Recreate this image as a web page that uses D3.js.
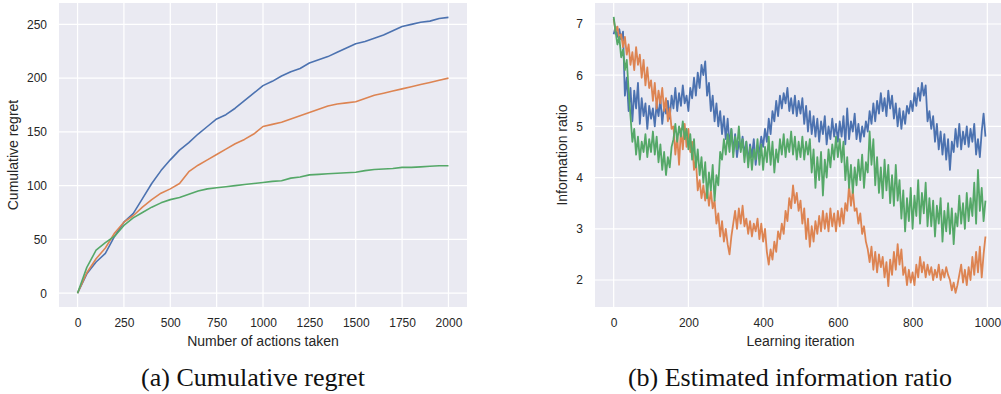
<!DOCTYPE html>
<html>
<head>
<meta charset="utf-8">
<script src="https://cdn.jsdelivr.net/npm/d3@7"></script>
<style>
  html, body { margin: 0; padding: 0; background: #ffffff; }
  svg { display: block; }
  .tick-label { font-family: "Liberation Sans", Arial, sans-serif; font-size: 12px; fill: #262626; }
  .axis-label { font-family: "Liberation Sans", Arial, sans-serif; font-size: 14px; fill: #262626; }
  .caption { font-family: "Liberation Serif", "Times New Roman", serif; font-size: 26px; fill: #111111; }
</style>
</head>
<body>
<svg id="fig" width="1001" height="394"></svg>
<script>
// ---- (a) cumulative regret, sampled every 50 actions ----
const actionStep = 50;
const regretBlue = [0, 18, 29, 37, 53, 66, 74, 88, 102, 114, 124, 133, 140, 148, 155, 162, 166, 172, 179, 186, 193,
  197, 202, 206, 209, 214, 217, 220, 224, 228, 232, 234, 237, 240, 244, 248, 250, 252, 253, 255.5, 256.5];
const regretOrange = [0, 19, 32, 42, 56, 66, 72, 80, 87, 93, 97, 102, 113, 119, 124, 129, 134, 139, 143, 148, 155,
  157, 159, 162, 165, 168, 171, 174, 176, 177, 178, 181, 184, 186, 188, 190, 192, 194, 196, 198, 200];
const regretGreen = [0, 24, 40, 47, 53, 63, 70, 75, 80, 84, 87, 89, 92, 95, 97, 98, 99, 100, 101, 102, 103,
  104, 104.5, 107, 108, 110, 110.5, 111, 111.5, 112, 112.5, 114, 115, 115.5, 116, 117, 117, 117.5, 118, 118.5, 118.5];
const regretXTicks = [0, 250, 500, 750, 1000, 1250, 1500, 1750, 2000];
const regretYTicks = [0, 50, 100, 150, 200, 250];

// ---- (b) estimated information ratio, sampled every 5 learning iterations ----
const iterStep = 5;
const ratioBlue = [
  6.80, 6.95, 6.75, 6.90, 6.70, 6.85, 5.60, 5.95, 5.30, 5.75,
  5.10, 5.70, 5.35, 5.85, 5.05, 5.55, 5.20, 5.45, 4.95, 5.40,
  5.15, 5.35, 5.00, 5.45, 5.20, 5.55, 5.05, 5.40, 5.25, 5.50,
  5.15, 5.60, 5.35, 5.75, 5.30, 5.65, 5.40, 5.80, 5.45, 5.60,
  5.30, 5.75, 5.55, 5.95, 5.60, 6.05, 5.75, 6.20, 6.00, 6.27,
  5.60, 5.85, 5.30, 5.60, 5.10, 5.45, 5.00, 5.30, 4.85, 5.20,
  4.75, 5.15, 4.65, 4.95, 4.50, 4.85, 4.40, 4.70, 4.55, 4.80,
  4.45, 4.70, 4.30, 4.65, 4.40, 4.75, 4.25, 4.60, 4.50, 4.80,
  4.60, 4.95, 4.70, 5.15, 4.85, 5.30, 5.10, 5.50, 5.20, 5.60,
  5.35, 5.65, 5.45, 5.75, 5.30, 5.55, 5.25, 5.60, 5.20, 5.50,
  5.25, 5.55, 5.05, 5.40, 4.90, 5.30, 4.85, 5.20, 4.80, 5.15,
  4.70, 5.10, 4.85, 5.20, 4.65, 5.00, 4.75, 5.15, 4.80, 5.05,
  4.70, 5.10, 4.80, 5.20, 4.65, 5.35, 4.75, 5.10, 4.90, 5.25,
  4.75, 5.05, 4.70, 5.00, 4.80, 5.10, 4.90, 5.30, 5.05, 5.45,
  5.10, 5.50, 5.25, 5.65, 5.30, 5.55, 5.20, 5.70, 5.35, 5.60,
  5.15, 5.45, 5.00, 5.35, 4.95, 5.30, 5.05, 5.40, 5.25, 5.50,
  5.30, 5.65, 5.40, 5.75, 5.50, 5.85, 5.60, 5.80, 5.10, 5.30,
  4.95, 5.20, 4.70, 5.05, 4.55, 4.90, 4.45, 4.85, 4.35, 4.75,
  4.15, 4.70, 4.50, 4.95, 4.60, 5.05, 4.55, 4.90, 4.65, 5.00,
  4.60, 4.95, 4.70, 5.05, 4.45, 4.75, 4.40, 4.90, 5.25, 4.80];
const ratioOrange = [
  7.10, 6.85, 6.95, 6.70, 6.80, 6.55, 6.75, 6.40, 6.60, 6.20,
  6.45, 6.10, 6.55, 6.20, 6.40, 5.95, 6.30, 5.80, 6.15, 5.75,
  5.90, 5.50, 5.85, 5.35, 5.70, 5.45, 5.75, 5.30, 5.55, 5.10,
  5.35, 4.95, 5.00, 4.45, 4.80, 4.25, 4.95, 4.55, 5.05, 4.60,
  4.95, 4.50, 4.70, 4.15, 4.35, 3.75, 3.95, 3.60, 3.85, 3.55,
  3.80, 3.45, 3.75, 3.40, 3.55, 3.10, 3.30, 2.85, 3.15, 2.75,
  3.00, 2.70, 2.50, 2.85, 3.10, 3.35, 3.00, 3.40, 3.10, 3.45,
  3.05, 3.20, 2.90, 3.15, 2.85, 3.10, 2.95, 3.20, 2.80, 3.10,
  2.75, 3.00, 2.55, 2.30, 2.60, 2.40, 2.75, 2.55, 2.95, 2.80,
  3.10, 2.90, 3.35, 3.15, 3.60, 3.40, 3.85, 3.50, 3.70, 3.35,
  3.55, 3.10, 3.40, 2.80, 3.20, 2.65, 3.05, 2.75, 3.15, 2.90,
  3.25, 2.95, 3.35, 3.00, 3.30, 2.95, 3.40, 3.05, 3.30, 2.95,
  3.35, 3.05, 3.40, 3.10, 3.50, 3.35, 3.85, 3.45, 3.75, 3.35,
  3.40, 3.10, 3.30, 2.90, 3.05, 2.75, 2.60, 2.35, 2.65, 2.20,
  2.55, 2.15, 2.50, 2.25, 2.45, 2.05, 2.35, 1.88, 2.40, 2.10,
  2.55, 2.20, 2.70, 2.30, 2.60, 2.10, 2.25, 1.90, 2.20, 1.95,
  2.15, 1.90, 2.30, 2.05, 2.45, 2.15, 2.35, 2.05, 2.30, 2.10,
  2.25, 2.00, 2.20, 2.05, 2.30, 2.00, 2.20, 2.05, 2.25, 2.10,
  2.00, 1.80, 1.95, 1.75, 1.90, 2.10, 2.30, 1.95, 2.20, 1.90,
  2.25, 2.00, 2.45, 2.10, 2.55, 2.15, 2.65, 2.05, 2.50, 2.85];
const ratioGreen = [
  7.14, 6.85, 6.60, 6.75, 6.35, 6.50, 6.10, 6.30, 5.70, 5.20,
  4.70, 4.95, 4.45, 4.80, 4.35, 4.70, 4.50, 4.85, 4.40, 4.75,
  4.50, 4.90, 4.45, 4.80, 4.30, 4.65, 4.15, 4.50, 4.05, 4.40,
  4.20, 4.60, 4.75, 5.05, 4.70, 5.00, 4.80, 5.10, 4.75, 4.95,
  4.55, 4.85, 4.35, 4.75, 4.20, 4.55, 4.05, 4.40, 3.90, 4.30,
  3.60, 4.10, 3.75, 4.25, 3.55, 4.05, 3.85, 4.50, 4.35, 4.75,
  4.45, 4.85, 4.50, 4.95, 4.40, 4.80, 4.55, 5.00, 4.50, 4.75,
  4.30, 4.70, 4.20, 4.60, 4.15, 4.55, 4.35, 4.75, 4.25, 4.65,
  4.15, 4.60, 4.30, 4.80, 4.25, 4.70, 4.10, 4.55, 4.30, 4.75,
  4.45, 4.85, 4.40, 4.75, 4.50, 4.90, 4.45, 4.80, 4.35, 4.70,
  4.40, 4.80, 4.35, 4.70, 4.45, 4.75, 4.10, 4.55, 3.80, 4.40,
  3.95, 4.50, 3.65, 4.35, 4.00, 4.55, 4.20, 4.65, 4.35, 4.80,
  4.40, 4.75, 4.30, 4.70, 3.95, 4.40, 3.80, 4.25, 3.70, 4.20,
  3.85, 4.35, 3.95, 4.45, 3.80, 4.30, 4.10, 4.90, 4.25, 4.75,
  3.85, 4.40, 3.70, 4.20, 3.60, 4.35, 3.75, 4.25, 3.50, 4.05,
  3.45, 4.25, 3.55, 3.95, 3.20, 3.75, 2.95, 3.60, 3.15, 3.80,
  3.00, 3.65, 3.25, 3.95, 3.10, 3.70, 3.30, 3.90, 3.05, 3.60,
  3.05, 3.55, 2.85, 3.45, 3.10, 3.60, 2.75, 3.35, 2.95, 3.50,
  2.90, 3.40, 2.70, 3.30, 3.05, 3.65, 3.10, 3.50, 3.00, 3.70,
  3.15, 3.60, 3.25, 3.90, 3.10, 4.15, 3.35, 3.80, 3.15, 3.55];
const ratioXTicks = [0, 200, 400, 600, 800, 1000];
const ratioYTicks = [2, 3, 4, 5, 6, 7];

const palette = { blue: "#4C72B0", orange: "#DD8452", green: "#55A868" };

const svg = d3.select("#fig");

function drawPanel(cfg) {
  const { x, y, xTicks, yTicks, series, step, lineWidth, xLabel, yLabel, yLabelX, caption, captionX } = cfg;
  const [x0, x1] = x.range();
  const [y0, y1] = y.range();
  const g = svg.append("g");

  // panel background
  g.append("rect")
    .attr("x", x0).attr("y", y1)
    .attr("width", x1 - x0).attr("height", y0 - y1)
    .attr("fill", "#EAEAF2");

  // white grid
  g.append("g").selectAll("line").data(xTicks).join("line")
    .attr("x1", d => x(d)).attr("x2", d => x(d))
    .attr("y1", y1).attr("y2", y0)
    .attr("stroke", "#ffffff").attr("stroke-width", 1.2);
  g.append("g").selectAll("line").data(yTicks).join("line")
    .attr("x1", x0).attr("x2", x1)
    .attr("y1", d => y(d)).attr("y2", d => y(d))
    .attr("stroke", "#ffffff").attr("stroke-width", 1.2);

  // axes (labels only, no domain or tick marks)
  const fmt = d3.format("d");
  const xAxis = g.append("g")
    .attr("transform", `translate(0,${y0})`)
    .call(d3.axisBottom(x).tickValues(xTicks).tickFormat(fmt).tickSize(0).tickPadding(11));
  const yAxis = g.append("g")
    .attr("transform", `translate(${x0},0)`)
    .call(d3.axisLeft(y).tickValues(yTicks).tickFormat(fmt).tickSize(0).tickPadding(12));
  [xAxis, yAxis].forEach(a => {
    a.attr("font-family", null).attr("font-size", null);
    a.select(".domain").remove();
    a.selectAll("text").attr("class", "tick-label").attr("fill", null);
  });

  // series
  const line = d3.line()
    .x((d, i) => x(i * step))
    .y(d => y(d));
  series.forEach(s => {
    g.append("path")
      .datum(s.values)
      .attr("d", line)
      .attr("fill", "none")
      .attr("stroke", s.color)
      .attr("stroke-width", lineWidth)
      .attr("stroke-linejoin", "round");
  });

  // axis titles
  g.append("text")
    .attr("class", "axis-label")
    .attr("x", (x0 + x1) / 2).attr("y", y0 + 39)
    .attr("text-anchor", "middle")
    .text(xLabel);
  g.append("text")
    .attr("class", "axis-label")
    .attr("transform", `translate(${yLabelX},${(y0 + y1) / 2}) rotate(-90)`)
    .attr("text-anchor", "middle")
    .text(yLabel);

  // sub-figure caption
  g.append("text")
    .attr("class", "caption")
    .attr("x", captionX).attr("y", 386)
    .attr("text-anchor", "middle")
    .text(caption);
}

drawPanel({
  x: d3.scaleLinear().domain([-100, 2100]).range([59, 467]),
  y: d3.scaleLinear().domain([-12.85, 269.85]).range([307, 3]),
  xTicks: regretXTicks,
  yTicks: regretYTicks,
  step: actionStep,
  lineWidth: 1.6,
  series: [
    { values: regretBlue, color: palette.blue },
    { values: regretOrange, color: palette.orange },
    { values: regretGreen, color: palette.green }
  ],
  xLabel: "Number of actions taken",
  yLabel: "Cumulative regret",
  yLabelX: 18,
  caption: "(a) Cumulative regret",
  captionX: 253
});

drawPanel({
  x: d3.scaleLinear().domain([-50, 1050]).range([595, 1006]),
  y: d3.scaleLinear().domain([1.473, 7.41]).range([307, 3]),
  xTicks: ratioXTicks,
  yTicks: ratioYTicks,
  step: iterStep,
  lineWidth: 1.8,
  series: [
    { values: ratioBlue, color: palette.blue },
    { values: ratioOrange, color: palette.orange },
    { values: ratioGreen, color: palette.green }
  ],
  xLabel: "Learning iteration",
  yLabel: "Information ratio",
  yLabelX: 567,
  caption: "(b) Estimated information ratio",
  captionX: 790
});
</script>
</body>
</html>
